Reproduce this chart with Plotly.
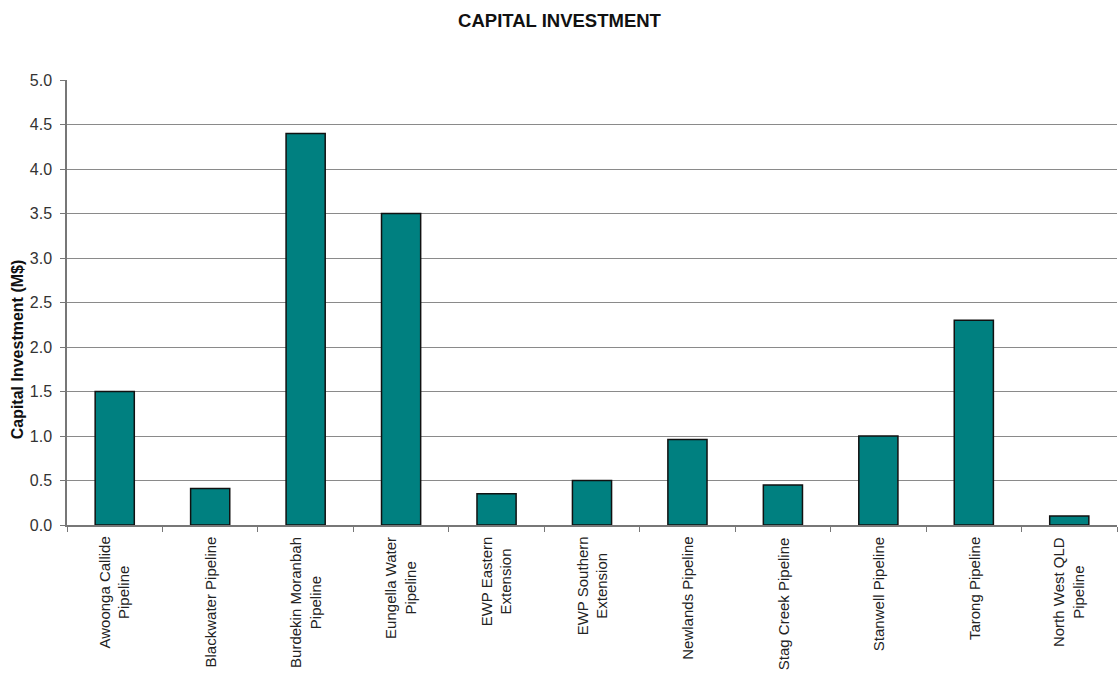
import plotly.graph_objects as go

categories = [
    "Awoonga Callide<br>Pipeline",
    "Blackwater Pipeline",
    "Burdekin Moranbah<br>Pipeline",
    "Eungella Water<br>Pipeline",
    "EWP Eastern<br>Extension",
    "EWP Southern<br>Extension",
    "Newlands Pipeline",
    "Stag Creek Pipeline",
    "Stanwell Pipeline",
    "Tarong Pipeline",
    "North West QLD<br>Pipeline",
]
investment = [1.5, 0.41, 4.4, 3.5, 0.35, 0.5, 0.96, 0.45, 1.0, 2.3, 0.1]
y_ticks = [0.0, 0.5, 1.0, 1.5, 2.0, 2.5, 3.0, 3.5, 4.0, 4.5, 5.0]

FONT = "Liberation Sans, Arial, sans-serif"
TEAL = "#008080"

fig = go.Figure(
    go.Bar(
        x=list(range(len(categories))),
        y=investment,
        marker=dict(color=TEAL, line=dict(color="#111111", width=1.5)),
        width=0.41,
    )
)

# Rotated, centre-aligned category labels under each bar
for i, name in enumerate(categories):
    fig.add_annotation(
        x=i, xref="x", y=-0.022, yref="paper",
        text=name, textangle=-90, showarrow=False,
        xanchor="center", yanchor="top", align="center",
        font=dict(family=FONT, size=15, color="#222222"),
    )

# Y-axis title
fig.add_annotation(
    x=-0.047, xref="paper", y=1.97, yref="y",
    text="<b>Capital Investment (M$)</b>", textangle=-90, showarrow=False,
    xanchor="center", yanchor="middle",
    font=dict(family=FONT, size=16, color="#111111"),
)

fig.update_layout(
    width=1119, height=677,
    margin=dict(l=67, r=2, t=80, b=152),
    paper_bgcolor="white", plot_bgcolor="white",
    showlegend=False,
    title=dict(
        text="<b>CAPITAL INVESTMENT</b>", x=0.5, xanchor="center",
        y=0.97, yanchor="middle",
        font=dict(family=FONT, size=18.5, color="#111111"),
    ),
)

fig.update_xaxes(
    range=[-0.5, len(categories) - 0.5],
    tickmode="array",
    tickvals=[i - 0.5 for i in range(len(categories) + 1)],
    ticktext=[""] * (len(categories) + 1),
    ticks="outside", ticklen=5, tickcolor="#777777", tickwidth=1,
    showline=True, linecolor="#777777", linewidth=1.5,
    showgrid=False, zeroline=False,
)

fig.update_yaxes(
    range=[0, 5.0],
    tickmode="array", tickvals=y_ticks,
    ticktext=[f"{v:.1f}" for v in y_ticks],
    ticks="outside", ticklen=5, tickcolor="#777777",
    ticklabelstandoff=5,
    showline=True, linecolor="#777777", linewidth=1.5,
    showgrid=True, gridcolor="#8a8a8a", gridwidth=1,
    zeroline=False,
    tickfont=dict(family=FONT, size=16, color="#333333"),
)

fig.write_html("out.html")
